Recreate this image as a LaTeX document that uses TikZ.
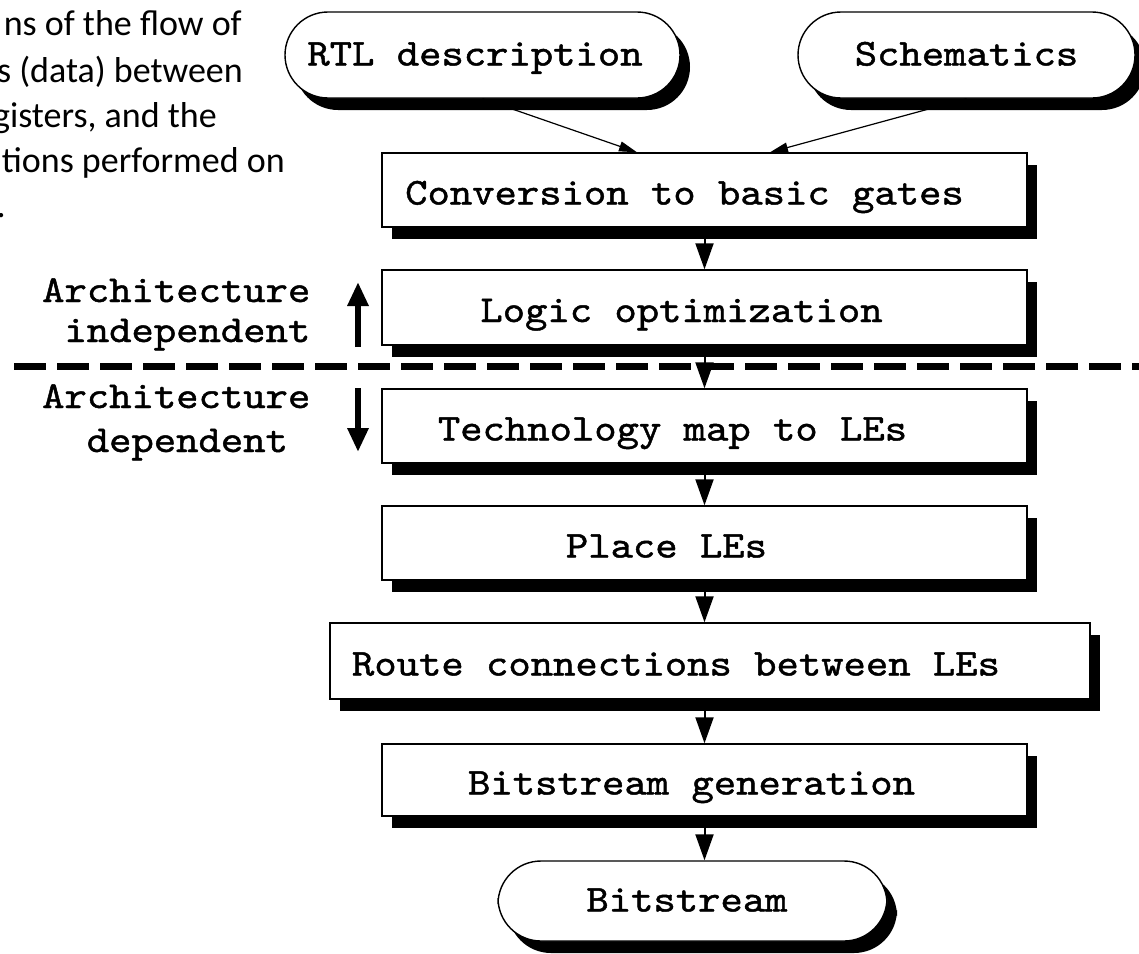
\documentclass[tikz,border=0pt]{standalone}
\usepackage{fontspec}
\newfontfamily\courlike{lmmono10-regular.otf}[FakeStretch=1.12, FakeBold=1.2]
\newfontfamily\notefont{Carlito}
\usetikzlibrary{arrows.meta,shadows,calc}
\newcommand\monolabel{\courlike\fontsize{38}{42}\selectfont}
\newcommand\notetext{\notefont\fontsize{36}{44}\selectfont}
\begin{document}
\begin{tikzpicture}[x=1pt,y=-1pt,
  stage/.style={draw, line width=1.4pt, fill=white, font=\monolabel,
    minimum width=645pt, minimum height=74pt, inner sep=0pt,
    text height=29pt, text depth=0pt,
    drop shadow={shadow xshift=10pt, shadow yshift=-12pt, fill=black, opacity=1}},
  terminal/.style={stage, rounded corners=43pt, minimum height=86pt, text height=21pt},
  flow/.style={line width=2pt, -{Triangle[width=18pt,length=26pt]}},
  feed/.style={line width=1.2pt, -{Triangle[width=10pt,length=18pt]}},
  scope arrow/.style={line width=6pt, -{Triangle[width=20pt,length=24pt]}},
  side/.style={font=\monolabel, inner sep=0pt, anchor=base west},
  note/.style={font=\notetext, inner sep=0pt, anchor=base east},
  divider/.style={line width=7pt, dash pattern=on 32pt off 11pt}
]
\useasboundingbox (0,0) rectangle (1139,953);
\fill[white] (0,0) rectangle (1139,953);

% explanatory note, running off the left edge
\node[note] (n1) at (242,35)  {ns of the flow of};
\node[note] (n2) at (243,82)  {s (data) between};
\node[note] (n3) at (217,127) {gisters, and the};
\node[note] (n4) at (285,172) {tions performed on};
\node[note] (n5) at (6,217)   {.};

% inputs
\node[terminal, minimum width=395pt] (rtl) at (482.5,55) {\hspace*{-15pt}RTL description};
\node[terminal, minimum width=337pt] (sch) at (966.5,55) {Schematics};

% processing stages
\node[stage] (conv)  at (704.5,190)   {\hspace*{-40pt}Conversion to basic gates};
\node[stage, minimum height=75pt] (logic) at (704.5,307.5) {\hspace*{-46pt}Logic optimization};
\node[stage] (tech)  at (704.5,426)   {\hspace*{-64pt}Technology map to LEs};
\node[stage] (place) at (704.5,543)   {\hspace*{-76pt}Place LEs};
\node[stage, minimum width=760pt, minimum height=76pt] (route) at (710,661) {\hspace*{-68pt}Route connections between LEs};
\node[stage, minimum height=72pt] (bgen) at (704.5,780) {\hspace*{-26pt}Bitstream generation};

% output
\node[terminal, minimum width=389pt, minimum height=80pt] (bs) at (692.5,901) {\hspace*{-11pt}Bitstream};

% connectors
\draw[feed] (rtl.south) -- ($(conv.north)+(-67.5,0)$);
\draw[feed] (sch.south) -- ($(conv.north)+(65.5,0)$);
\draw[flow] (conv.south)  -- (logic.north);
\draw[flow] (logic.south) -- (tech.north);
\draw[flow] (tech.south)  -- (place.north);
\draw[flow] (place.south) -- (place.south |- route.north);
\draw[flow] (route.south -| place.south) -- (bgen.north);
\draw[flow] (bgen.south)  -- (bgen.south |- bs.north);

% boundary between the two halves of the flow
\coordinate (divL) at (14,366);
\coordinate (divR) at (1139,366);
\draw[divider] (divL) -- (divR);

\node[side] (ai1) at (42,302)   {Architecture};
\node[side] (ai2) at (64.3,342) {independent};
\node[side] (ad1) at (42,408)   {Architecture};
\node[side] (ad2) at (86.6,452) {dependent};

\coordinate (upA) at (358,347);
\coordinate (upB) at (358,282);
\coordinate (dnA) at (358,388);
\coordinate (dnB) at (358,452);
\draw[scope arrow] (upA) -- (upB);
\draw[scope arrow] (dnA) -- (dnB);
\end{tikzpicture}
\end{document}
